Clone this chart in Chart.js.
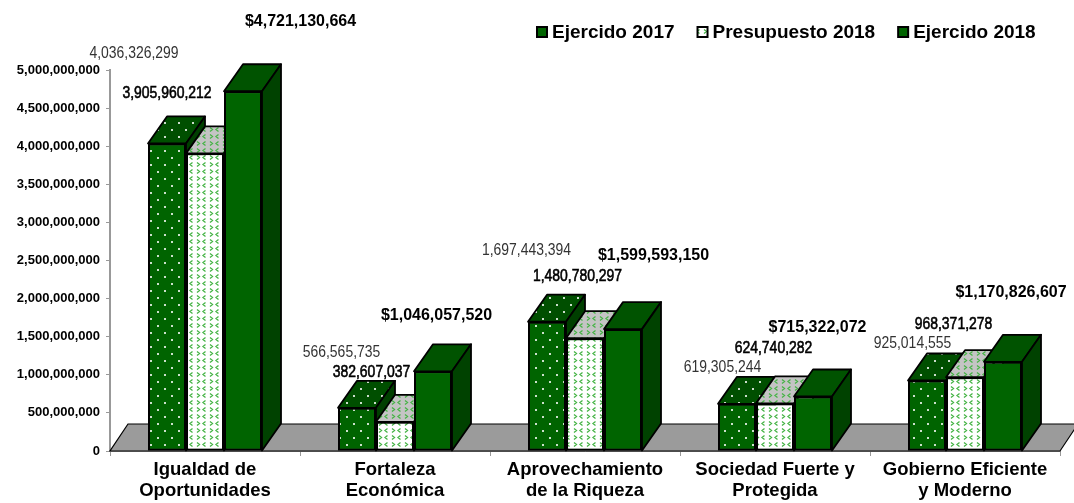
<!DOCTYPE html>
<html>
<head>
<meta charset="utf-8">
<script src="https://cdn.jsdelivr.net/npm/chart.js@4.4.0/dist/chart.umd.min.js"></script>
<style>
  body { margin: 0; background: #fff; }
  #wrap { width: 1074px; height: 503px; }
</style>
</head>
<body>
<div id="wrap"><canvas id="chart"></canvas></div>
<script>
// data
const categories = [
  ['Igualdad de', 'Oportunidades'],
  ['Fortaleza', 'Económica'],
  ['Aprovechamiento', 'de la Riqueza'],
  ['Sociedad Fuerte y', 'Protegida'],
  ['Gobierno Eficiente', 'y Moderno']
];
const seriesNames = ['Ejercido 2017', 'Presupuesto 2018', 'Ejercido 2018'];
const ejercido2017 = [4036326299, 566565735, 1697443394, 619305244, 925014555];
const presupuesto2018 = [3905960212, 382607037, 1480780297, 624740282, 968371278];
const ejercido2018 = [4721130664, 1046057520, 1599593150, 715322072, 1170826607];
const yTicks = [0, 500000000, 1000000000, 1500000000, 2000000000, 2500000000,
                3000000000, 3500000000, 4000000000, 4500000000, 5000000000];

const FONT = '"Liberation Sans", Arial, sans-serif';
const DX = 19, DY = 27; // 3d depth offset

// label offsets from the top-centre of each bar front (hand placed like the original)
const labelOffsets = [
  [[-33, -90], [-15.5, -56], [-20.5, -71], [-14.5, -36], [-14.5, -37.5]],
  [[-38, -60], [-23.5, -50], [-7.5, -62], [-1.5, -55], [-11.5, -53]],
  [[57.5, -70], [3.5, -56], [30.5, -74], [4.5, -69], [8, -69]]
];

function makeTile(w, h, bg, draw) {
  const c = document.createElement('canvas');
  c.width = w; c.height = h;
  const g = c.getContext('2d');
  g.fillStyle = bg;
  g.fillRect(0, 0, w, h);
  draw(g);
  return document.createElement('canvas').getContext('2d').createPattern(c, 'repeat');
}

function dots(bg) {
  return makeTile(14, 14, bg, g => {
    g.fillStyle = 'rgba(255,255,255,0.8)';
    g.fillRect(3, 3, 2, 2);
    g.fillRect(10, 10, 2, 2);
  });
}

function chevrons(bg) {
  return makeTile(13, 7, bg, g => {
    g.strokeStyle = '#45b345';
    g.lineWidth = 1.3;
    g.beginPath();
    g.moveTo(2, 1.5); g.lineTo(4.5, 3.5); g.lineTo(2, 5.5);
    g.moveTo(10.5, 1.5); g.lineTo(8, 3.5); g.lineTo(10.5, 5.5);
    g.stroke();
  });
}

const fronts = [dots('#006400'), chevrons('#ffffff'), '#006400'];
const tops = [dots('#004f00'), chevrons('#c4c4c4'), '#005300'];
const sides = ['#003f00', '#a0a0a0', '#004200'];

function face(ctx, pts, fill) {
  ctx.beginPath();
  ctx.moveTo(pts[0][0], pts[0][1]);
  for (let i = 1; i < pts.length; i++) ctx.lineTo(pts[i][0], pts[i][1]);
  ctx.closePath();
  ctx.fillStyle = fill;
  ctx.fill();
  ctx.stroke();
}

function narrowText(ctx, text, x, y, heavy) {
  ctx.save();
  ctx.translate(x, y);
  ctx.scale(0.82, 1);
  ctx.font = '17px ' + FONT;
  if (heavy) {
    ctx.lineWidth = 0.6;
    ctx.strokeStyle = ctx.fillStyle;
    ctx.strokeText(text, 0, 0);
  }
  ctx.fillText(text, 0, 0);
  ctx.restore();
}

const box3d = {
  id: 'box3d',
  beforeDatasetsDraw(chart) {
    const { ctx, chartArea } = chart;
    const b = chartArea.bottom;
    ctx.save();
    ctx.lineWidth = 1.2;
    ctx.strokeStyle = '#000';
    face(ctx, [[chartArea.left, b], [chartArea.right, b],
               [chartArea.right + DX - 1, b - DY], [chartArea.left + DX - 1, b - DY]], '#9b9b9b');
    ctx.restore();
  },
  afterDatasetsDraw(chart) {
    const ctx = chart.ctx;
    const metas = [0, 1, 2].map(i => chart.getDatasetMeta(i));
    // redraw left to right so each box covers its neighbour's hidden side
    for (let j = 0; j < categories.length; j++) {
      metas.forEach((meta, s) => {
        const bar = meta.data[j];
        bar.draw(ctx);
        const { x, y, base, width } = bar.getProps(['x', 'y', 'base', 'width'], true);
        const l = x - width / 2, r = x + width / 2;
        ctx.save();
        ctx.lineWidth = 1.8;
        ctx.strokeStyle = '#000';
        ctx.lineJoin = 'round';
        face(ctx, [[l, y], [r, y], [r + DX, y - DY], [l + DX, y - DY]], tops[s]);
        face(ctx, [[r, y], [r + DX, y - DY], [r + DX, base - DY], [r, base]], sides[s]);
        ctx.restore();
      });
    }
    // value labels
    ctx.save();
    ctx.textAlign = 'center';
    ctx.textBaseline = 'middle';
    metas.forEach((meta, s) => {
      const vals = chart.data.datasets[s].data;
      meta.data.forEach((bar, j) => {
        const [ox, oy] = labelOffsets[s][j];
        const txt = vals[j].toLocaleString('en-US');
        if (s === 2) {
          ctx.fillStyle = '#000';
          ctx.font = 'bold 16px ' + FONT;
          ctx.fillText('$' + txt, bar.x + ox, bar.y + oy);
        } else {
          ctx.fillStyle = s === 0 ? '#333' : '#000';
          narrowText(ctx, txt, bar.x + ox, bar.y + oy, s === 1);
        }
      });
    });
    ctx.restore();
  },
  afterDraw(chart) {
    const ctx = chart.ctx;
    let x = 537;
    const y = 32;
    ctx.save();
    ctx.font = 'bold 19px ' + FONT;
    ctx.textBaseline = 'middle';
    ctx.fillStyle = '#000';
    seriesNames.forEach((name, s) => {
      ctx.fillStyle = fronts[s];
      ctx.fillRect(x, y - 5, 10, 10);
      ctx.lineWidth = 2;
      ctx.strokeStyle = '#000';
      ctx.strokeRect(x, y - 5, 10, 10);
      ctx.fillStyle = '#000';
      ctx.fillText(name, x + 15, y + 1);
      x += 15 + ctx.measureText(name).width + 23;
    });
    ctx.restore();
  }
};

new Chart(document.getElementById('chart'), {
  type: 'bar',
  data: {
    labels: categories,
    datasets: [ejercido2017, presupuesto2018, ejercido2018].map((d, s) => ({
      label: seriesNames[s],
      data: d,
      backgroundColor: fronts[s],
      borderColor: '#000',
      borderWidth: 2,
      borderSkipped: false
    }))
  },
  options: {
    responsive: true,
    maintainAspectRatio: false,
    animation: false,
    events: [],
    layout: { padding: { top: 70, right: 14, left: 0, bottom: 0 } },
    datasets: { bar: { barPercentage: 1, categoryPercentage: 0.6 } },
    plugins: { legend: { display: false }, tooltip: { enabled: false } },
    scales: {
      x: {
        ticks: { font: { family: FONT, size: 18.5, weight: 'bold', lineHeight: 1.1 },
                 color: '#000', padding: 4, maxRotation: 0, autoSkip: false },
        grid: { drawOnChartArea: false, offset: true, tickLength: 5, color: '#999' },
        border: { color: '#999', width: 1 },
        afterFit(s) { s.height = 52; }
      },
      y: {
        min: 0,
        max: 5000000000,
        afterBuildTicks(s) { s.ticks = yTicks.map(v => ({ value: v })); },
        ticks: { font: { family: FONT, size: 13, weight: 'bold' }, color: '#000', padding: 6,
                 callback: v => v.toLocaleString('en-US') },
        grid: { drawOnChartArea: false, tickLength: 4, color: '#999' },
        border: { color: '#999', width: 2 },
        afterFit(s) { s.width = 110; }
      }
    }
  },
  plugins: [box3d]
});
</script>
</body>
</html>
